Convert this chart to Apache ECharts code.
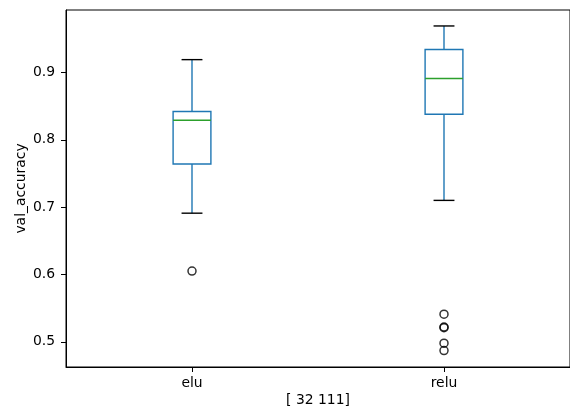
<!DOCTYPE html>
<html>
<head>
<meta charset="utf-8">
<script src="https://cdn.jsdelivr.net/npm/echarts@6/dist/echarts.min.js"></script>
<style>
html,body{margin:0;padding:0;background:#fff;}
#chart{width:570px;height:419px;}
</style>
</head>
<body>
<div id="chart"></div>
<script>
const categories = ['elu', 'relu'];
const whiskerLow = [0.691, 0.710];
const q1 = [0.764, 0.838];
const median = [0.829, 0.891];
const q3 = [0.842, 0.934];
const whiskerHigh = [0.919, 0.969];
const outliersElu = [0.605];
const outliersRelu = [0.541, 0.522, 0.521, 0.498, 0.487];
const yTicks = [0.5, 0.6, 0.7, 0.8, 0.9];
const yLabel = 'val_accuracy';
const xLabel = '[ 32 111]';

const boxData = categories.map((c, i) => [i, whiskerLow[i], q1[i], median[i], q3[i], whiskerHigh[i]]);
const outlierData = []
  .concat(outliersElu.map(v => [0, v]))
  .concat(outliersRelu.map(v => [1, v]));

const FONT = 'DejaVu Sans';
const BLUE = '#1f77b4', GREEN = '#2ca02c';
const LW = 1.4;

function renderBox(params, api) {
  const x = api.value(0);
  const lo = api.coord([x, api.value(1)]);
  const b1 = api.coord([x, api.value(2)]);
  const md = api.coord([x, api.value(3)]);
  const b3 = api.coord([x, api.value(4)]);
  const hi = api.coord([x, api.value(5)]);
  const band = api.size([1, 0])[0];
  const bw = band * 0.15;
  const cw = bw / 2;
  const cx = lo[0];
  return {
    type: 'group',
    children: [
      {type: 'line', shape: {x1: cx, y1: lo[1], x2: cx, y2: b1[1]}, style: {stroke: BLUE, lineWidth: LW}},
      {type: 'line', shape: {x1: cx, y1: b3[1], x2: cx, y2: hi[1]}, style: {stroke: BLUE, lineWidth: LW}},
      {type: 'rect', shape: {x: cx - bw / 2, y: b3[1], width: bw, height: b1[1] - b3[1]}, style: {fill: 'none', stroke: BLUE, lineWidth: LW}},
      {type: 'line', shape: {x1: cx - bw / 2, y1: md[1], x2: cx + bw / 2, y2: md[1]}, style: {stroke: GREEN, lineWidth: LW}},
      {type: 'line', shape: {x1: cx - cw / 2 - 1, y1: lo[1], x2: cx + cw / 2 + 1, y2: lo[1]}, style: {stroke: '#000', lineWidth: LW}},
      {type: 'line', shape: {x1: cx - cw / 2 - 1, y1: hi[1], x2: cx + cw / 2 + 1, y2: hi[1]}, style: {stroke: '#000', lineWidth: LW}}
    ]
  };
}

const chart = echarts.init(document.getElementById('chart'), null, {renderer: 'canvas'});
chart.setOption({
  animation: false,
  backgroundColor: '#fff',
  textStyle: {fontFamily: FONT},
  grid: {left: 66, right: -1, top: 10, bottom: 52, show: true, borderColor: '#000', borderWidth: 1, backgroundColor: 'transparent'},
  xAxis: {
    type: 'category',
    data: categories,
    boundaryGap: true,
    name: xLabel,
    nameLocation: 'middle',
    nameGap: 26,
    nameMoveOverlap: false,
    nameTextStyle: {fontFamily: FONT, fontSize: 13.9, color: '#000'},
    axisLine: {show: true, lineStyle: {color: '#000', width: 1}},
    axisTick: {show: true, alignWithLabel: true, length: 5, lineStyle: {color: '#000', width: 1}},
    axisLabel: {fontFamily: FONT, fontSize: 13.9, color: '#000', margin: 9},
    splitLine: {show: false}
  },
  yAxis: {
    type: 'value',
    min: 0.4626,
    max: 0.9927,
    name: yLabel,
    nameLocation: 'middle',
    nameGap: 38,
    nameMoveOverlap: false,
    nameTextStyle: {fontFamily: FONT, fontSize: 13.9, color: '#000'},
    axisLine: {show: true, lineStyle: {color: '#000', width: 1}},
    axisTick: {show: true, length: 5, customValues: yTicks, lineStyle: {color: '#000', width: 1}},
    axisLabel: {fontFamily: FONT, fontSize: 13.9, color: '#000', margin: 11, customValues: yTicks, formatter: v => v.toFixed(1)},
    splitLine: {show: false}
  },
  series: [
    {type: 'custom', renderItem: renderBox, data: boxData, encode: {x: 0, y: [1, 2, 3, 4, 5]}, clip: true},
    {type: 'scatter', data: outlierData, symbol: 'circle', symbolSize: 8,
     itemStyle: {color: 'rgba(0,0,0,0)', borderColor: '#000', borderWidth: 1.5}}
  ]
});
</script>
</body>
</html>
